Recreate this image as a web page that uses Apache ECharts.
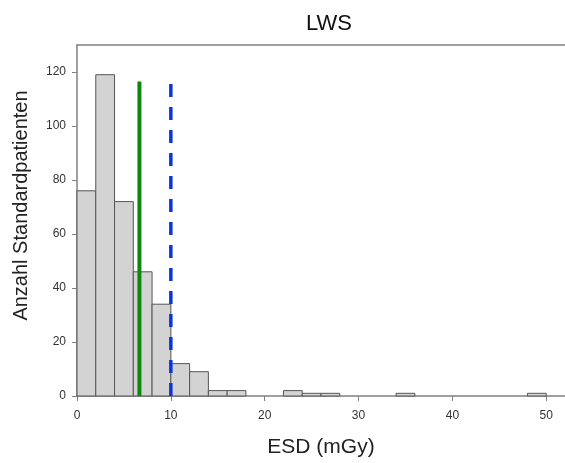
<!DOCTYPE html>
<html>
<head>
<meta charset="utf-8">
<script src="https://cdn.jsdelivr.net/npm/echarts@6/dist/echarts.min.js"></script>
<style>
  html, body { margin: 0; padding: 0; background: #fff; }
  #chart { width: 565px; height: 463px; }
</style>
</head>
<body>
<div id="chart"></div>
<script>
// Histogram bins of ESD (mGy), width 2
const binStarts = [0, 2, 4, 6, 8, 10, 12, 14, 16, 18, 20, 22, 24, 26, 28, 30, 32, 34, 36, 38, 40, 42, 44, 46, 48];
const binWidth = 2;
const counts = [76, 119, 72, 46, 34, 12, 9, 2, 2, 0, 0, 2, 1, 1, 0, 0, 0, 1, 0, 0, 0, 0, 0, 0, 1];

// Reference lines
const greenLineX = 6.65;
const blueLineX = 10;
const refLineTop = 116.5;

// Tick labels
const xTicks = [0, 10, 20, 30, 40, 50];
const yTicks = [0, 20, 40, 60, 80, 100, 120];

const histData = binStarts
  .map((s, i) => [s, s + binWidth, counts[i]])
  .filter(d => d[2] > 0);

const FONT = 'Liberation Sans, Arial, sans-serif';
const axisGray = '#808080';

const chart = echarts.init(document.getElementById('chart'), null, { renderer: 'canvas' });

chart.setOption({
  animation: false,
  backgroundColor: '#fff',
  title: {
    text: 'LWS',
    left: 301,
    top: 8,
    textStyle: { fontFamily: FONT, fontSize: 22, fontWeight: 'normal', color: '#111' }
  },
  grid: { left: 77, top: 45, right: 0, bottom: 65 },
  xAxis: [{
    type: 'value',
    min: 0,
    max: 52,
    name: 'ESD (mGy)',
    nameLocation: 'middle',
    nameGap: 41,
    nameTextStyle: { fontFamily: FONT, fontSize: 21, color: '#222' },
    axisLine: { show: true, lineStyle: { color: axisGray, width: 1.5 } },
    axisTick: { show: true, length: 5, customValues: xTicks, lineStyle: { color: axisGray } },
    axisLabel: { customValues: xTicks, margin: 14, fontFamily: FONT, fontSize: 12, color: '#333' },
    splitLine: { show: false }
  }, {
    type: 'value',
    position: 'top',
    min: 0,
    max: 52,
    axisLine: { show: true, lineStyle: { color: axisGray, width: 1.5 } },
    axisTick: { show: false },
    axisLabel: { show: false },
    splitLine: { show: false }
  }],
  yAxis: {
    type: 'value',
    min: 0,
    max: 130,
    name: 'Anzahl Standardpatienten',
    nameLocation: 'middle',
    nameGap: 46,
    nameRotate: 90,
    nameTextStyle: { fontFamily: FONT, fontSize: 20, color: '#222', padding: [0, 0, 0, 30] },
    axisLine: { show: true, lineStyle: { color: axisGray, width: 1.5 } },
    axisTick: { show: true, length: 5, customValues: yTicks, lineStyle: { color: axisGray } },
    axisLabel: { customValues: yTicks, margin: 11, fontFamily: FONT, fontSize: 12, color: '#333' },
    splitLine: { show: false }
  },
  series: [
    {
      type: 'custom',
      xAxisIndex: 0,
      data: histData,
      encode: { x: [0, 1], y: 2 },
      renderItem: function (params, api) {
        const p0 = api.coord([api.value(0), api.value(2)]);
        const p1 = api.coord([api.value(1), 0]);
        return {
          type: 'rect',
          shape: { x: p0[0], y: p0[1], width: p1[0] - p0[0], height: p1[1] - p0[1] },
          style: { fill: '#d3d3d3', stroke: '#555', lineWidth: 1 }
        };
      }
    },
    {
      type: 'line',
      xAxisIndex: 0,
      data: [[greenLineX, 0], [greenLineX, refLineTop]],
      symbol: 'none',
      lineStyle: { color: '#0c880c', width: 4 },
      z: 5
    },
    {
      type: 'line',
      xAxisIndex: 0,
      data: [[blueLineX, 0], [blueLineX, refLineTop]],
      symbol: 'none',
      lineStyle: { color: '#0b36d6', width: 3.5, type: [13, 10] },
      z: 5
    }
  ]
});
</script>
</body>
</html>
